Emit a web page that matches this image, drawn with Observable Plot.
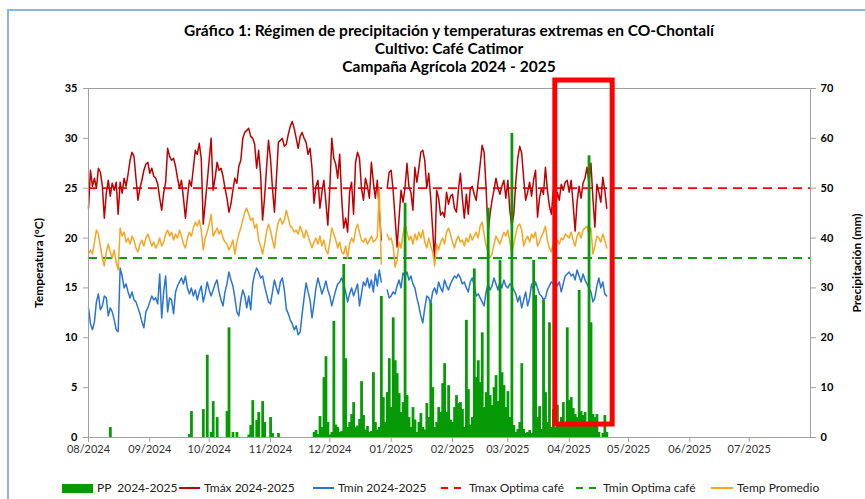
<!DOCTYPE html>
<html><head><meta charset="utf-8">
<script src="https://cdn.jsdelivr.net/npm/d3@7"></script>
<script src="https://cdn.jsdelivr.net/npm/@observablehq/plot@0.6"></script>
<style>
body{margin:0;background:#fff;font-family:Lato,"Open Sans",sans-serif;}
#wrap{position:relative;width:865px;height:499px;overflow:hidden;background:#fff;}
.t{position:absolute;left:0;width:898px;text-align:center;font-weight:700;font-size:15.5px;color:#000;line-height:18px;}
#chart{position:absolute;left:0;top:80px;}
.ax{position:absolute;font-weight:700;font-size:12px;color:#000;white-space:nowrap;transform:translate(-50%,-50%) rotate(-90deg);}
.lg{position:absolute;top:480px;font-size:12px;color:#222;line-height:16px;white-space:nowrap;}
.sw{position:absolute;}
#bl{position:absolute;left:7px;top:9px;width:2px;height:500px;background:#8ab6e6;}
#bt{position:absolute;left:7px;top:9px;width:870px;height:2px;background:#8ab6e6;}
</style></head>
<body><div id="wrap">
<div id="bl"></div><div id="bt"></div>
<div class="t" style="top:21px">Gráfico 1: Régimen de precipitación y temperaturas extremas en CO-Chontalí</div>
<div class="t" style="top:39px">Cultivo: Café Catimor</div>
<div class="t" style="top:57px">Campaña Agrícola 2024 - 2025</div>
<div id="chart"></div>
<div class="ax" style="left:38px;top:263px">Temperatura (°C)</div>
<div class="ax" style="left:856px;top:263px">Precipitación (mm)</div>
<div class="sw" style="left:62px;top:484px;width:31px;height:9px;background:#079a07"></div>
<div class="lg" style="left:97px">PP&nbsp;&nbsp;2024-2025</div>
<div class="sw" style="left:179px;top:487px;width:21px;height:2px;background:#c00000"></div>
<div class="lg" style="left:204px">Tmáx 2024-2025</div>
<div class="sw" style="left:313px;top:487px;width:21px;height:2px;background:#2a74d2"></div>
<div class="lg" style="left:338px">Tmín 2024-2025</div>
<div class="sw" style="left:441px;top:487px;width:7px;height:2px;background:#ff0000"></div>
<div class="sw" style="left:454px;top:487px;width:7px;height:2px;background:#ff0000"></div>
<div class="lg" style="left:469px">Tmax Optima café</div>
<div class="sw" style="left:576px;top:487px;width:7px;height:2px;background:#159a15"></div>
<div class="sw" style="left:589px;top:487px;width:7px;height:2px;background:#159a15"></div>
<div class="lg" style="left:603px">Tmin Optima café</div>
<div class="sw" style="left:711px;top:487px;width:22px;height:2px;background:#f5a623"></div>
<div class="lg" style="left:737px">Temp Promedio</div>
</div>
<script>
// Daily series from 2024-08-01 (Aug, Sep, Oct, Nov, Dec, Jan, Feb, Mar, Apr)
const tmax = [
23.0,26.8,25.2,26.0,25.0,27.0,26.6,25.2,22.0,24.5,25.8,24.2,25.5,24.8,25.6,22.4,25.6,24.5,26.0,25.2,26.4,27.8,28.6,28.2,26.0,23.8,25.0,25.8,26.8,27.4,27.6,
26.5,27.0,26.2,26.0,25.4,24.0,22.8,24.5,25.6,29.0,28.2,27.8,28.0,27.2,26.0,25.0,25.8,24.0,22.0,24.0,25.8,25.2,27.0,28.8,28.4,29.5,28.0,21.4,23.5,25.6,
27.8,30.0,24.8,26.0,27.6,26.8,27.0,26.2,25.0,24.0,22.6,23.4,24.8,26.0,25.5,27.2,27.8,30.0,30.6,30.8,31.0,30.2,30.0,29.4,27.0,28.8,26.4,21.8,24.0,27.0,29.8,
28.0,25.0,22.6,26.0,29.6,29.8,30.0,29.2,29.4,30.4,31.2,31.7,31.0,30.0,29.0,30.2,30.6,30.0,29.6,28.4,29.0,27.0,23.5,25.2,25.8,23.0,24.6,25.8,23.6,21.3,
25.0,30.0,28.0,27.4,26.0,28.4,24.0,21.0,22.0,20.6,24.6,25.6,22.4,27.6,28.6,28.0,25.0,23.8,26.0,25.2,24.0,27.6,25.6,24.0,25.8,22.8,19.8,null,null,25.0,26.6,
26.8,24.8,22.0,19.1,22.0,24.8,23.6,25.0,27.5,25.1,24.6,22.8,27.1,25.6,27.0,28.6,28.8,27.8,25.0,26.5,24.0,20.8,17.7,24.8,24.0,22.3,22.6,22.1,24.6,23.4,24.2,
24.4,23.0,22.6,24.8,26.5,24.0,22.0,24.4,22.4,25.0,25.2,24.4,23.8,25.6,27.4,29.3,28.6,25.0,20.5,22.4,23.8,24.8,26.0,25.0,24.4,25.2,25.8,24.0,
25.8,22.8,21.2,22.4,25.6,28.0,29.2,28.5,26.0,23.8,24.6,25.6,24.2,25.8,26.8,22.1,24.0,25.0,24.4,27.1,24.8,23.2,22.4,24.8,23.0,24.6,23.8,25.4,24.8,25.6,25.8,
24.6,25.8,23.4,20.7,23.6,25.2,24.0,25.5,26.0,27.1,25.6,27.5,24.0,21.1,25.4,24.6,23.6,26.1,24.8,23.0
];
const tavg = [
18.4,18.8,18.4,19.6,20.8,20.4,19.2,18.0,17.2,18.6,19.4,18.6,18.0,18.8,17.6,16.8,21.0,20.2,20.6,19.6,20.0,19.4,20.2,19.8,19.0,18.6,19.4,19.8,19.2,20.0,20.4,
19.8,19.2,19.6,19.0,19.4,20.0,19.2,19.6,20.4,20.8,20.2,20.6,19.8,20.4,20.0,20.8,20.2,19.4,19.0,20.0,20.6,20.2,21.0,21.6,21.2,21.8,20.8,18.8,20.0,20.6,
21.4,22.4,20.2,20.6,21.0,20.4,20.8,20.0,19.6,19.4,18.8,19.2,19.8,18.4,19.6,20.4,21.0,21.8,22.6,23.0,22.4,21.8,22.0,21.0,21.4,19.8,19.2,18.4,19.4,20.6,21.4,
20.8,19.8,19.0,20.6,21.6,22.0,21.4,21.8,22.8,22.0,21.2,21.0,20.6,20.8,20.4,21.2,20.6,20.0,20.8,20.2,19.6,19.0,19.6,20.0,19.4,20.2,19.2,19.8,18.8,18.4,
19.6,21.0,20.4,19.8,19.0,19.6,18.6,18.4,19.2,18.0,19.4,20.0,19.6,20.8,21.4,20.6,19.8,19.6,20.0,19.4,19.8,20.2,19.6,19.8,20.2,25.0,17.4,null,null,20.4,19.8,
20.0,19.2,17.1,17.8,19.6,19.0,20.4,21.4,20.6,19.8,20.2,19.4,20.4,19.8,20.6,20.0,20.8,19.6,19.0,20.0,19.2,18.6,17.2,19.4,18.8,19.6,20.0,19.4,20.6,21.0,20.4,
19.6,19.0,19.8,20.2,19.6,19.8,19.2,20.0,19.6,20.4,19.8,20.2,20.6,20.0,21.2,21.6,20.4,19.2,18.6,18.0,18.4,19.4,20.2,19.8,19.4,20.0,20.6,20.2,
20.8,19.6,18.6,19.4,20.4,21.2,21.4,20.8,19.2,19.8,20.2,19.6,20.4,20.0,20.6,19.2,19.6,20.2,20.6,21.2,19.8,19.0,18.6,19.4,19.0,19.8,19.4,20.0,19.8,20.4,20.2,
20.0,20.6,19.8,19.2,20.2,20.6,20.0,20.8,21.0,21.2,20.4,21.0,18.4,19.2,20.2,20.0,19.6,20.4,19.8,19.0
];
const tmin = [
13.0,11.4,10.8,11.6,13.6,14.4,12.8,13.2,14.2,14.0,12.2,13.0,12.6,11.8,10.8,10.6,17.0,16.2,15.0,15.4,14.6,14.0,14.6,13.8,13.6,13.0,12.4,11.6,11.0,12.6,13.0,
13.6,14.2,13.8,14.0,13.4,16.4,12.0,14.6,16.2,12.6,14.0,13.8,12.4,14.6,15.2,15.6,16.0,15.4,16.2,15.0,14.4,15.0,14.2,14.8,13.8,14.6,15.2,13.6,14.4,15.6,
14.8,14.2,14.8,15.4,15.8,14.6,13.8,13.2,14.6,15.4,16.6,15.8,15.2,14.0,12.6,12.2,13.8,14.8,14.2,13.0,14.2,12.8,15.4,16.4,17.0,16.6,16.0,16.2,15.2,14.4,13.6,
13.4,14.6,15.8,15.0,14.4,15.6,16.0,14.8,12.9,12.4,11.8,11.4,10.8,11.2,10.3,10.6,12.4,14.0,15.5,14.6,13.8,12.0,13.4,15.0,16.0,15.2,14.4,15.0,15.7,14.8,
14.2,13.2,14.0,14.8,15.4,15.6,16.0,15.4,14.6,13.6,14.4,15.0,14.2,14.8,15.4,13.2,14.4,15.6,15.2,16.0,15.0,15.8,14.6,16.4,15.2,16.8,15.6,null,null,14.8,14.0,
14.2,14.6,14.4,15.2,15.8,15.0,16.5,16.2,16.6,15.8,16.2,15.4,15.0,14.0,13.2,12.2,11.5,13.0,14.2,14.0,13.4,14.6,15.0,14.4,15.6,15.0,14.6,15.8,15.2,14.8,15.4,
15.8,16.2,16.0,16.4,16.0,15.4,15.6,15.0,14.6,15.6,16.0,15.2,14.2,14.4,14.0,13.6,13.2,14.6,15.4,14.8,15.2,16.0,15.4,14.8,15.6,15.0,15.8,15.2,
15.0,15.4,15.2,14.8,14.4,13.6,14.2,13.0,13.8,14.6,13.2,14.0,15.4,14.8,15.6,15.0,14.4,14.2,13.8,14.0,14.8,15.2,15.6,15.4,15.8,15.2,15.6,14.6,15.4,16.2,16.4,
16.6,16.2,16.4,15.8,16.8,16.2,15.6,16.4,15.8,15.4,15.0,14.6,13.6,14.0,15.2,16.0,15.0,15.6,14.4,14.2
];
// Daily precipitation (mm)
const pp = [
0,0,0,0,0,0,0,0,0,0,0,2.0,0,0,0,0,0,0,0,0,0,0,0,0,0,0,0,0,0,0,0,
0,0,0,0,0,0,0,0,0,0,0,0,0,0,0,0,0,0,0,0,0.6,5.2,0,0,0,0,0,5.6,0,16.5,
0,1.0,7.2,0,4.0,0,0,0,0,5.2,22.0,0,1.0,0,1.0,0,0,0,0,0,0.5,2.4,7.4,0,3.4,5.0,0,7.2,3.0,0,0,
4.0,0.8,0,0,0.8,0,0,0,0,0,0,0,0,0,0,0,0,0,0,0,0,0,1.0,1.4,0.6,4.2,2.0,12.0,16.2,3.0,
0.5,1.0,23.3,2.5,2.0,1.0,1.2,34.7,15.8,2.0,3.0,4.6,7.0,2.0,2.3,3.6,11.2,4.4,1.5,2.2,1.0,1.2,13.0,3.0,1.5,2.0,28.3,8.0,3.0,9.0,15.8,
6.0,24.0,15.4,12.8,8.8,5.0,7.0,47.0,8.4,4.0,2.0,6.0,3.5,1.0,3.0,4.8,2.0,1.5,6.8,4.0,27.0,10.0,2.0,3.0,6.0,5.0,10.8,14.8,5.0,10.4,3.5,
3.0,6.0,8.4,6.8,7.0,5.6,2.0,23.5,9.6,2.5,4.0,33.8,12.0,15.4,11.0,21.0,6.0,9.0,46.0,8.4,6.4,10.0,12.4,7.2,35.5,13.0,10.4,6.0,
9.2,4.0,61.0,2.4,1.0,1.6,3.0,14.8,1.6,0.8,1.0,1.4,0.8,35.5,28.5,4.0,6.2,1.6,27.5,9.0,3.0,23.0,2.0,5.6,2.0,6.5,2.5,4.0,7.0,3.0,22.0,
7.4,8.0,5.8,4.6,4.0,29.5,5.2,4.4,5.0,3.0,56.5,23.0,4.6,4.0,4.6,1.0,0,0.8,4.4,1.0
];
const campaignStart = "2024-08-01";
const axisEnd = "2025-08-01";
const optimaTmax = 25;
const optimaTmin = 18;
const tempTicks = [0, 5, 10, 15, 20, 25, 30, 35];
const ppPerDegree = 2; // right axis: 70 mm at 35 °C
const highlightDates = ["2025-03-25", "2025-04-23"];
const highlightTemps = [1.3, 35.8];

const start = new Date(campaignStart);
const end = new Date(axisEnd);
const rows = tmax.map((v, i) => ({
  date: d3.utcDay.offset(start, i),
  tmax: v, tmin: tmin[i], tavg: tavg[i], pp: pp[i]
}));
const rain = rows.filter(d => d.pp > 0);

const chart = Plot.plot({
  width: 865, height: 419,
  marginTop: 8, marginBottom: 62, marginLeft: 88, marginRight: 55,
  style: {fontFamily: "Lato, sans-serif", background: "transparent", overflow: "visible", color: "#000"},
  x: {type: "utc", domain: [start, end]},
  y: {domain: [0, 35]},
  marks: [
    Plot.ruleY([optimaTmax], {stroke: "#ff0000", strokeWidth: 1.8, strokeDasharray: "9,6"}),
    Plot.ruleY([optimaTmin], {stroke: "#159a15", strokeWidth: 1.8, strokeDasharray: "9,6"}),
    Plot.lineY(rows, {x: "date", y: "tmax", stroke: "#c00000", strokeWidth: 1.5}),
    Plot.lineY(rows, {x: "date", y: "tavg", stroke: "#f5a623", strokeWidth: 1.5}),
    Plot.lineY(rows, {x: "date", y: "tmin", stroke: "#2a74d2", strokeWidth: 1.5}),
    Plot.rect(rain, {x1: "date", x2: d => d3.utcDay.offset(d.date, 1), y1: 0, y2: d => d.pp / ppPerDegree, fill: "#079a07", insetLeft: -0.8}),
    Plot.frame({stroke: "#a0a0a0"}),
    Plot.axisX({ticks: d3.utcMonth.range(start, end), tickFormat: d3.utcFormat("%m/%Y"), tickSize: 5, tickPadding: 3, fontSize: 11, label: null, stroke: "#a0a0a0", color: "#333"}),
    Plot.axisY({anchor: "left", ticks: tempTicks, tickSize: 5, tickPadding: 6, fontSize: 11, fontWeight: "bold", label: null, stroke: "#a0a0a0"}),
    Plot.axisY({anchor: "right", ticks: tempTicks, tickFormat: d => d * ppPerDegree, tickSize: 5, tickPadding: 5, fontSize: 11, fontWeight: "bold", label: null, stroke: "#a0a0a0"}),
    Plot.rect([{x1: new Date(highlightDates[0]), x2: new Date(highlightDates[1]), y1: highlightTemps[0], y2: highlightTemps[1]}],
      {x1: "x1", x2: "x2", y1: "y1", y2: "y2", fill: "none", stroke: "#ff0000", strokeWidth: 5})
  ]
});
document.getElementById("chart").appendChild(chart);
</script>
</body></html>
